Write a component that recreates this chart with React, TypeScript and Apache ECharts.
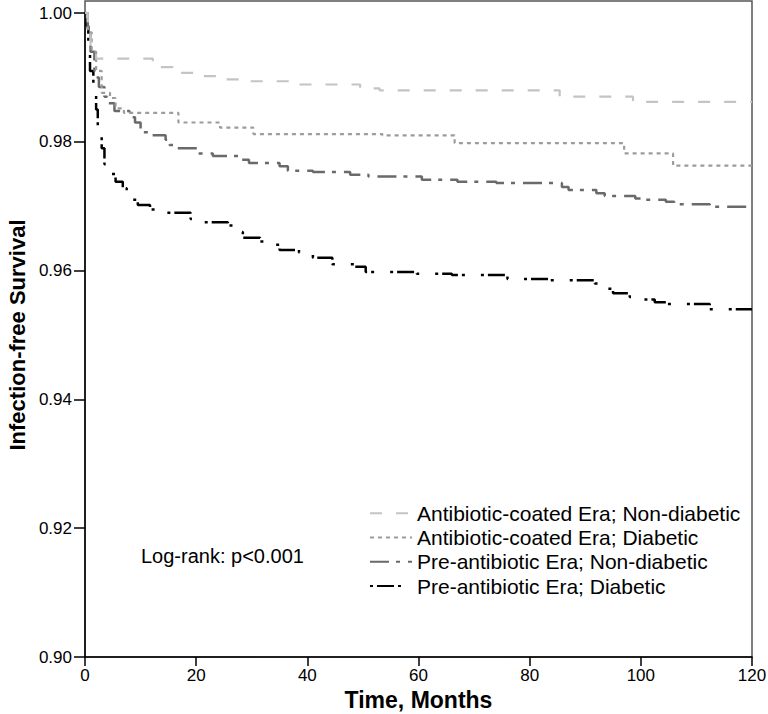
import React, { useEffect, useRef } from "react";
import * as echarts from "echarts";

const seriesNames = [
  "Antibiotic-coated Era; Non-diabetic",
  "Antibiotic-coated Era; Diabetic",
  "Pre-antibiotic Era; Non-diabetic",
  "Pre-antibiotic Era; Diabetic",
];

const xTicks = [0, 20, 40, 60, 80, 100, 120];

const abNonDiabetic: [number, number][] = [
  [0, 1.0], [0.5, 0.997], [1.0, 0.9945], [2.0, 0.9929], [12.2, 0.9916], [15.8, 0.9907],
  [20, 0.9902], [23.7, 0.9897], [28, 0.9894], [37, 0.9889], [49.5, 0.9883], [53, 0.988],
  [85.4, 0.987], [98.6, 0.9862], [120, 0.9862],
];

const abDiabetic: [number, number][] = [
  [0, 1.0], [0.5, 0.997], [1.2, 0.994], [2.0, 0.991], [3.0, 0.9876], [4.5, 0.9868],
  [5.5, 0.9852], [7.0, 0.9845], [16.8, 0.983], [24.3, 0.9822], [30.3, 0.9812],
  [53.5, 0.981], [66.5, 0.9798], [97, 0.9782], [105.8, 0.9763], [120, 0.9763],
];

const preNonDiabetic: [number, number][] = [
  [0, 1.0], [0.5, 0.997], [1.0, 0.994], [1.7, 0.99], [2.5, 0.9885], [3.5, 0.987],
  [4.0, 0.986], [5.3, 0.9848], [8.0, 0.9838], [9.0, 0.983], [10.0, 0.9815], [12, 0.981],
  [14.5, 0.9803], [15.2, 0.9795], [16.5, 0.979], [20.3, 0.9782], [23, 0.9778], [28, 0.9772],
  [29.5, 0.9767], [35, 0.9762], [36.5, 0.9755], [41, 0.9753], [47.7, 0.9749], [51, 0.9746],
  [60.6, 0.9741], [67, 0.9738], [74, 0.9736], [85.8, 0.973], [87, 0.9725], [92, 0.972],
  [93.5, 0.9716], [99, 0.9712], [100.5, 0.971], [104.5, 0.9707], [106, 0.9703],
  [112.4, 0.9699], [120, 0.9698],
];

const preDiabetic: [number, number][] = [
  [0, 1.0], [0.3, 0.998], [0.6, 0.995], [0.9, 0.991], [1.5, 0.988], [2.0, 0.985],
  [2.3, 0.982], [3.0, 0.979], [3.5, 0.9765], [4.5, 0.975], [5.5, 0.9738], [6.8, 0.9728],
  [7.5, 0.972], [8.5, 0.971], [9.5, 0.9702], [11.7, 0.9695], [14, 0.969], [19, 0.968],
  [21, 0.9675], [25.7, 0.967], [27, 0.966], [28.4, 0.9651], [31.5, 0.9645], [33, 0.964],
  [35, 0.9632], [38.5, 0.9628], [41, 0.962], [44.5, 0.961], [48.5, 0.9606], [50.5, 0.9598],
  [59.7, 0.9595], [66, 0.9593], [76, 0.9587], [83.6, 0.9585], [91.7, 0.958], [93, 0.9572],
  [95, 0.9565], [98, 0.9559], [100, 0.9555], [102.5, 0.9551], [104.7, 0.9548],
  [112.4, 0.954], [120, 0.954],
];

const seriesData = [abNonDiabetic, abDiabetic, preNonDiabetic, preDiabetic];
const colors = ["#c4c4c4", "#9c9c9c", "#6a6a6a", "#000000"];
const dashes = [[12, 14], [4, 4], [19, 7, 4, 8], [3, 4, 17, 4, 3, 16]];
const widths = [2.2, 2.2, 2.5, 2.5];

const FONT = "'Liberation Sans', Arial, sans-serif";

export default function App() {
  const ref = useRef<HTMLDivElement>(null);
  useEffect(() => {
    if (!ref.current) return;
    const chart = echarts.init(ref.current, undefined, { renderer: "svg" });
    const option: any = {
      animation: false,
      backgroundColor: "#ffffff",
      textStyle: { fontFamily: FONT },
      grid: {
        left: 85,
        right: 16,
        top: 13,
        bottom: 57,
        containLabel: false,
        outerBoundsMode: "none",
      },
      xAxis: {
        type: "value",
        min: xTicks[0],
        max: xTicks[xTicks.length - 1],
        interval: 20,
        name: "Time, Months",
        nameLocation: "middle",
        nameGap: 31,
        nameTextStyle: { fontSize: 23, fontWeight: "bold", color: "#000", fontFamily: FONT },
        axisLine: { show: true, lineStyle: { color: "#000", width: 1.5 } },
        axisTick: { show: true, length: 9, lineStyle: { color: "#000", width: 1.5 } },
        axisLabel: { fontSize: 17, color: "#000", margin: 10, fontFamily: FONT },
        splitLine: { show: false },
      },
      yAxis: {
        type: "value",
        min: 0.9,
        max: 1.0,
        interval: 0.02,
        name: "Infection-free Survival",
        nameLocation: "middle",
        nameGap: 53,
        nameRotate: 90,
        nameTextStyle: { fontSize: 22, fontWeight: "bold", color: "#000", fontFamily: FONT },
        axisLine: { show: true, lineStyle: { color: "#000", width: 1.5 } },
        axisTick: { show: true, length: 11, lineStyle: { color: "#000", width: 1.5 } },
        axisLabel: {
          fontSize: 17,
          color: "#000",
          margin: 13,
          fontFamily: FONT,
          formatter: (v: number) => v.toFixed(2),
        },
        splitLine: { show: false },
      },
      legend: {
        orient: "vertical",
        left: 369,
        top: 501,
        padding: 0,
        itemWidth: 42,
        itemHeight: 10,
        itemGap: 0,
        itemStyle: { opacity: 0 },
        textStyle: { fontSize: 21, lineHeight: 24.3, color: "#000", fontFamily: FONT },
        data: seriesNames,
      },
      graphic: [
        {
          type: "rect",
          shape: { x: 85, y: 1, width: 667, height: 656 },
          style: { fill: "none", stroke: "#555", lineWidth: 1.5 },
          silent: true,
          z: 0,
        },
        {
          type: "text",
          left: 141,
          top: 546,
          style: { text: "Log-rank: p<0.001", fontSize: 20, fill: "#000", fontFamily: FONT },
        },
      ],
      series: seriesData.map((d, i) => ({
        name: seriesNames[i],
        type: "line",
        step: "end",
        data: d,
        symbol: "none",
        showSymbol: false,
        color: colors[i],
        lineStyle: { color: colors[i], width: widths[i], type: dashes[i] },
        z: 10 - i,
      })),
    };
    chart.setOption(option);
    return () => chart.dispose();
  }, []);
  return (
    <div
      ref={ref}
      style={{ position: "absolute", left: 0, top: 0, width: 768, height: 714 }}
    />
  );
}
